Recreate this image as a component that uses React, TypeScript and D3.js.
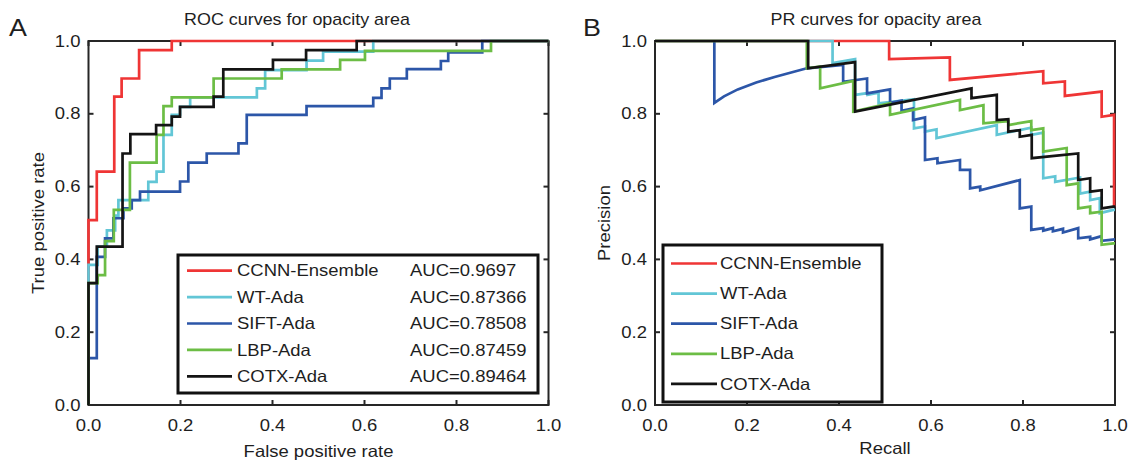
import React from 'react';
import * as d3 from 'd3';

type P = [number, number];

const categories = ['CCNN-Ensemble', 'WT-Ada', 'SIFT-Ada', 'LBP-Ada', 'COTX-Ada'];
const aucLabels = ['AUC=0.9697', 'AUC=0.87366', 'AUC=0.78508', 'AUC=0.87459', 'AUC=0.89464'];
const seriesColors = ['#ef3535', '#62c6d6', '#2c56a8', '#6cbd45', '#141414'];
const tickValues = [0, 0.2, 0.4, 0.6, 0.8, 1.0];
const tickLabels = ['0.0', '0.2', '0.4', '0.6', '0.8', '1.0'];

// ROC curves (false positive rate, true positive rate)
const rocCCNN: P[] = [[0, 0], [0, 0.508], [0.018, 0.508], [0.018, 0.641], [0.056, 0.641], [0.056, 0.847], [0.072, 0.847], [0.072, 0.897], [0.11, 0.897], [0.11, 0.975], [0.181, 0.975], [0.181, 1], [1, 1]];
const rocWT: P[] = [[0, 0], [0, 0.385], [0.02, 0.385], [0.02, 0.435], [0.04, 0.435], [0.04, 0.48], [0.058, 0.48], [0.058, 0.52], [0.065, 0.52], [0.065, 0.563], [0.13, 0.563], [0.13, 0.613], [0.148, 0.613], [0.148, 0.641], [0.163, 0.641], [0.163, 0.742], [0.181, 0.742], [0.181, 0.797], [0.199, 0.797], [0.199, 0.819], [0.221, 0.819], [0.221, 0.845], [0.366, 0.845], [0.366, 0.87], [0.384, 0.87], [0.384, 0.92], [0.474, 0.92], [0.474, 0.946], [0.51, 0.946], [0.51, 0.971], [0.619, 0.971], [0.619, 1], [1, 1]];
const rocSIFT: P[] = [[0, 0], [0, 0.129], [0.018, 0.129], [0.018, 0.407], [0.036, 0.407], [0.036, 0.458], [0.054, 0.458], [0.054, 0.513], [0.076, 0.513], [0.076, 0.54], [0.094, 0.54], [0.094, 0.563], [0.112, 0.563], [0.112, 0.586], [0.199, 0.586], [0.199, 0.614], [0.217, 0.614], [0.217, 0.666], [0.257, 0.666], [0.257, 0.691], [0.326, 0.691], [0.326, 0.719], [0.344, 0.719], [0.344, 0.797], [0.474, 0.797], [0.474, 0.821], [0.619, 0.821], [0.619, 0.844], [0.637, 0.844], [0.637, 0.87], [0.655, 0.87], [0.655, 0.897], [0.692, 0.897], [0.692, 0.923], [0.766, 0.923], [0.766, 0.945], [0.782, 0.945], [0.782, 0.969], [0.856, 0.969], [0.856, 1], [1, 1]];
const rocLBP: P[] = [[0, 0], [0, 0.335], [0.02, 0.335], [0.02, 0.357], [0.036, 0.357], [0.036, 0.45], [0.055, 0.45], [0.055, 0.536], [0.09, 0.536], [0.09, 0.666], [0.148, 0.666], [0.148, 0.742], [0.163, 0.742], [0.163, 0.821], [0.181, 0.821], [0.181, 0.845], [0.272, 0.845], [0.272, 0.897], [0.42, 0.897], [0.42, 0.922], [0.547, 0.922], [0.547, 0.948], [0.601, 0.948], [0.601, 0.973], [0.875, 0.973], [0.875, 1], [1, 1]];
const rocCOTX: P[] = [[0, 0], [0, 0.335], [0.018, 0.335], [0.018, 0.435], [0.074, 0.435], [0.074, 0.691], [0.091, 0.691], [0.091, 0.744], [0.147, 0.744], [0.147, 0.769], [0.181, 0.769], [0.181, 0.792], [0.199, 0.792], [0.199, 0.819], [0.272, 0.819], [0.272, 0.847], [0.293, 0.847], [0.293, 0.922], [0.401, 0.922], [0.401, 0.948], [0.473, 0.948], [0.473, 0.975], [0.583, 0.975], [0.583, 1], [1, 1]];

// PR curves (recall, precision)
const prCCNN: P[] = [[0, 1], [0.509, 1], [0.509, 0.95], [0.641, 0.955], [0.641, 0.893], [0.844, 0.917], [0.844, 0.884], [0.891, 0.889], [0.891, 0.849], [0.971, 0.861], [0.971, 0.792], [0.998, 0.797], [0.998, 0.545]];
const prWT: P[] = [[0, 1], [0.386, 1], [0.386, 0.939], [0.435, 0.95], [0.435, 0.852], [0.462, 0.857], [0.462, 0.852], [0.486, 0.858], [0.486, 0.829], [0.563, 0.84], [0.563, 0.76], [0.587, 0.765], [0.587, 0.751], [0.612, 0.757], [0.612, 0.733], [0.743, 0.769], [0.743, 0.742], [0.818, 0.762], [0.818, 0.742], [0.844, 0.748], [0.844, 0.623], [0.87, 0.628], [0.87, 0.613], [0.924, 0.625], [0.924, 0.581], [0.946, 0.586], [0.946, 0.563], [0.967, 0.568], [0.967, 0.527], [0.996, 0.536], [1, 0.536]];
const prSIFT: P[] = [[0.129, 1], [0.129, 0.83], [0.15, 0.848], [0.18, 0.867], [0.22, 0.886], [0.26, 0.901], [0.3, 0.915], [0.33, 0.925], [0.409, 0.934], [0.409, 0.888], [0.461, 0.897], [0.461, 0.856], [0.511, 0.867], [0.511, 0.83], [0.536, 0.836], [0.536, 0.808], [0.561, 0.815], [0.561, 0.783], [0.587, 0.79], [0.587, 0.673], [0.614, 0.678], [0.614, 0.664], [0.663, 0.673], [0.663, 0.646], [0.685, 0.646], [0.685, 0.595], [0.707, 0.6], [0.707, 0.59], [0.793, 0.618], [0.793, 0.54], [0.818, 0.545], [0.818, 0.481], [0.844, 0.486], [0.844, 0.479], [0.865, 0.486], [0.865, 0.477], [0.887, 0.484], [0.887, 0.474], [0.92, 0.486], [0.92, 0.458], [0.946, 0.462], [0.946, 0.455], [0.971, 0.464], [0.971, 0.451], [1, 0.455]];
const prLBP: P[] = [[0, 1], [0.33, 1], [0.33, 0.925], [0.359, 0.93], [0.359, 0.87], [0.431, 0.89], [0.431, 0.806], [0.511, 0.829], [0.511, 0.797], [0.663, 0.838], [0.663, 0.81], [0.714, 0.824], [0.714, 0.774], [0.768, 0.78], [0.768, 0.769], [0.818, 0.78], [0.818, 0.755], [0.844, 0.76], [0.844, 0.696], [0.895, 0.706], [0.895, 0.604], [0.92, 0.609], [0.92, 0.54], [0.946, 0.545], [0.946, 0.527], [0.971, 0.531], [0.971, 0.44], [0.996, 0.444], [1, 0.444]];
const prCOTX: P[] = [[0, 1], [0.333, 1], [0.333, 0.925], [0.435, 0.942], [0.435, 0.806], [0.688, 0.87], [0.688, 0.843], [0.743, 0.852], [0.743, 0.783], [0.768, 0.785], [0.768, 0.751], [0.793, 0.755], [0.793, 0.737], [0.819, 0.742], [0.819, 0.678], [0.92, 0.691], [0.92, 0.618], [0.946, 0.623], [0.946, 0.586], [0.971, 0.59], [0.971, 0.54], [0.996, 0.545], [1, 0.545]];

const rocSeries = [rocCCNN, rocWT, rocSIFT, rocLBP, rocCOTX];
const prSeries = [prCCNN, prWT, prSIFT, prLBP, prCOTX];

const FONT = "'Liberation Sans', Arial, Helvetica, sans-serif";
const SX = 1.12;

function T({ x, y, size = 16.5, anchor = 'middle', rotate = 0, children }: any) {
  return (
    <text
      transform={`translate(${x},${y}) rotate(${rotate}) scale(${SX},1)`}
      fontSize={size}
      textAnchor={anchor}
      dominantBaseline="central"
      fontFamily={FONT}
      fill="#1e1e1e"
    >
      {children}
    </text>
  );
}

function Panel({ x0, x1, y0, y1, title, titleX, xLabel, xLabelY, yLabel, yLabelX, series, legend }: any) {
  const xs = d3.scaleLinear().domain([0, 1]).range([x0, x1]);
  const ys = d3.scaleLinear().domain([0, 1]).range([y0, y1]);
  const line = d3.line<P>().x((d) => xs(d[0])).y((d) => ys(d[1]));
  const tl = 5;
  return (
    <g>
      <T x={titleX} y={20} size={16}>{title}</T>
      <rect x={x0} y={y1} width={x1 - x0} height={y0 - y1} fill="none" stroke="#262626" strokeWidth={2} />
      {tickValues.map((t, i) => (
        <g key={'t' + i}>
          <line x1={xs(t)} x2={xs(t)} y1={y0} y2={y0 - tl} stroke="#262626" strokeWidth={2} />
          <line x1={xs(t)} x2={xs(t)} y1={y1} y2={y1 + tl} stroke="#262626" strokeWidth={2} />
          <line x1={x0} x2={x0 + tl} y1={ys(t)} y2={ys(t)} stroke="#262626" strokeWidth={2} />
          <line x1={x1} x2={x1 - tl} y1={ys(t)} y2={ys(t)} stroke="#262626" strokeWidth={2} />
          <T x={xs(t)} y={y0 + 20}>{tickLabels[i]}</T>
          <T x={x0 - 8} y={ys(t)} anchor="end">{tickLabels[i]}</T>
        </g>
      ))}
      <T x={(x0 + x1) / 2} y={xLabelY}>{xLabel}</T>
      <T x={yLabelX} y={(y0 + y1) / 2} rotate={-90}>{yLabel}</T>
      {series.map((s: P[], i: number) => (
        <path key={'s' + i} d={line(s) || ''} fill="none" stroke={seriesColors[i]} strokeWidth={2.7} strokeLinejoin="miter" />
      ))}
      {legend}
    </g>
  );
}

function Legend({ x, y, w, h, rowY, dy, lineX0, lineX1, textX, aucX }: any) {
  return (
    <g>
      <rect x={x} y={y} width={w} height={h} fill="#fff" stroke="#111" strokeWidth={3} />
      {categories.map((c, i) => (
        <g key={c}>
          <line x1={lineX0} x2={lineX1} y1={rowY + i * dy} y2={rowY + i * dy} stroke={seriesColors[i]} strokeWidth={2.7} />
          <T x={textX} y={rowY + i * dy} anchor="start">{c}</T>
          {aucX ? <T x={aucX} y={rowY + i * dy} anchor="start">{aucLabels[i]}</T> : null}
        </g>
      ))}
    </g>
  );
}

export default function App() {
  return (
    <svg width={1134} height={461} style={{ position: 'absolute', left: 0, top: 0, background: '#fff' }}>
      <rect x={0} y={0} width={1134} height={461} fill="#fff" />
      <T x={18} y={28} size={24}>A</T>
      <T x={592} y={28} size={24}>B</T>
      <Panel
        x0={88.5} x1={548.5} y0={405} y1={41}
        title="ROC curves for opacity area" titleX={297}
        xLabel="False positive rate" xLabelY={451}
        yLabel="True positive rate" yLabelX={38}
        series={rocSeries}
        legend={<Legend x={178} y={255} w={360} h={138} rowY={270.7} dy={26.4} lineX0={187} lineX1={232} textX={237} aucX={410} />}
      />
      <Panel
        x0={655} x1={1115} y0={405} y1={41}
        title="PR curves for opacity area" titleX={876}
        xLabel="Recall" xLabelY={448}
        yLabel="Precision" yLabelX={604}
        series={prSeries}
        legend={<Legend x={663} y={245} w={219} h={157} rowY={263.5} dy={30.1} lineX0={671} lineX1={717} textX={720} />}
      />
    </svg>
  );
}
